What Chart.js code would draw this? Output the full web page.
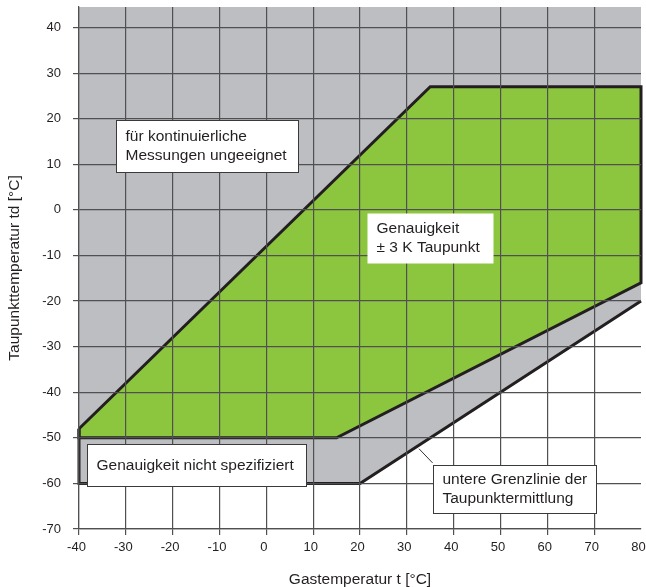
<!DOCTYPE html>
<html>
<head>
<meta charset="utf-8">
<script src="https://cdn.jsdelivr.net/npm/chart.js@4.4.1/dist/chart.umd.min.js"></script>
<style>
  html, body { margin: 0; padding: 0; background: #fff; }
  #wrap { width: 646px; height: 587px; }
</style>
</head>
<body>
<div id="wrap"><canvas id="chart" width="646" height="587"></canvas></div>
<script>
// region outlines, [gas temperature, dew point]
const grayZone = [[-40, 44.5], [80, 44.5], [80, -20], [20, -60], [-40, -60]];
const greenZone = [[-40, -48], [35, 27], [80, 27], [80, -16], [15, -50], [-40, -50], [-40, -48]];
const lowerLimit = [[-40, -48], [-40, -60], [20, -60], [80, -20]];

const xTicks = [-40, -30, -20, -10, 0, 10, 20, 30, 40, 50, 60, 70, 80];
const yTicks = [-70, -60, -50, -40, -30, -20, -10, 0, 10, 20, 30, 40];

const xTitle = 'Gastemperatur t [°C]';
const yTitle = 'Taupunkttemperatur td [°C]';

const noteTexts = [
    ['für kontinuierliche', 'Messungen ungeeignet'],
    ['Genauigkeit', '± 3 K Taupunkt'],
    ['Genauigkeit nicht spezifiziert'],
    ['untere Grenzlinie der', 'Taupunktermittlung']
];

const FONT = '"Liberation Sans", Arial, Helvetica, sans-serif';
const GRID = '#505053';
const INK = '#231f20';

const toPoints = arr => arr.map(p => ({ x: p[0], y: p[1] }));

// white text boxes drawn on top of everything
const notesPlugin = {
    id: 'notes',
    afterDraw(chart) {
        const { ctx, scales: { x, y } } = chart;
        const boxes = [
            { x0: -32.0, y0: 19.8, x1: 6.8, y1: 8.3, border: true },
            { x0: 21.4, y0: -0.6, x1: 48.4, y1: -11.6, border: false },
            { x0: -38.2, y0: -51.4, x1: 8.4, y1: -60.5, border: true },
            { x0: 35.6, y0: -55.9, x1: 70.4, y1: -66.6, border: true }
        ];
        ctx.save();

        // leader from the last box to the lower limit line
        ctx.strokeStyle = '#333';
        ctx.lineWidth = 1;
        ctx.beginPath();
        ctx.moveTo(x.getPixelForValue(35.6) - 0.5, y.getPixelForValue(-55.5));
        ctx.lineTo(x.getPixelForValue(32.6), y.getPixelForValue(-52.4));
        ctx.stroke();

        boxes.forEach((b, i) => {
            const left = Math.round(x.getPixelForValue(b.x0)) + 0.5;
            const right = Math.round(x.getPixelForValue(b.x1)) + 0.5;
            const top = Math.round(y.getPixelForValue(b.y0)) + 0.5;
            const bottom = Math.round(y.getPixelForValue(b.y1)) + 0.5;
            ctx.fillStyle = '#fff';
            ctx.fillRect(left, top, right - left, bottom - top);
            if (b.border) {
                ctx.strokeStyle = '#3a3a3a';
                ctx.lineWidth = 1;
                ctx.strokeRect(left, top, right - left, bottom - top);
            }
            const lines = noteTexts[i];
            const lh = 19;
            const mid = (top + bottom) / 2;
            ctx.fillStyle = '#231f20';
            ctx.font = '15.5px ' + FONT;
            ctx.textAlign = 'left';
            ctx.textBaseline = 'middle';
            lines.forEach((t, k) => {
                ctx.fillText(t, left + 9, mid + (k - (lines.length - 1) / 2) * lh);
            });
        });
        ctx.restore();
    }
};

new Chart(document.getElementById('chart'), {
    type: 'scatter',
    data: {
        datasets: [{
            data: toPoints(lowerLimit),
            showLine: true,
            borderColor: INK,
            borderWidth: 3,
            pointRadius: 0,
            fill: false,
            clip: 4,
            order: 0
        }, {
            data: toPoints(greenZone),
            showLine: true,
            borderColor: INK,
            borderWidth: 3,
            backgroundColor: '#8cc63f',
            pointRadius: 0,
            fill: 'shape',
            clip: 4,
            order: 1
        }, {
            data: toPoints(grayZone),
            showLine: true,
            borderWidth: 0,
            borderColor: 'rgba(0,0,0,0)',
            backgroundColor: '#bdbec2',
            pointRadius: 0,
            fill: 'shape',
            order: 2
        }]
    },
    options: {
        responsive: false,
        animation: false,
        layout: { padding: { top: 7, right: 5, left: 0, bottom: 0 } },
        plugins: {
            legend: { display: false },
            tooltip: { enabled: false }
        },
        scales: {
            x: {
                type: 'linear',
                min: -40,
                max: 80,
                afterBuildTicks: s => { s.ticks = xTicks.map(v => ({ value: v })); },
                afterFit: s => { s.height = 58; s.paddingLeft = 0; s.paddingRight = 0; },
                ticks: {
                    color: '#231f20',
                    font: { family: FONT, size: 13 },
                    padding: 5,
                    labelOffset: -2.5,
                    maxRotation: 0,
                    autoSkip: false
                },
                grid: {
                    color: c => (c.tick && c.tick.value === 80 ? 'rgba(0,0,0,0)' : GRID),
                    lineWidth: 1.2,
                    tickLength: 6,
                    z: 1
                },
                border: { color: GRID, width: 1.2, z: 1 },
                title: {
                    display: true,
                    text: xTitle,
                    color: '#231f20',
                    font: { family: FONT, size: 15.5, lineHeight: 1 },
                    padding: { top: 0, bottom: 0 }
                }
            },
            y: {
                type: 'linear',
                min: -70,
                max: 44.5,
                afterBuildTicks: s => { s.ticks = yTicks.map(v => ({ value: v })); },
                afterFit: s => { s.width = 79; s.paddingTop = 0; s.paddingBottom = 0; },
                ticks: {
                    color: '#231f20',
                    font: { family: FONT, size: 13 },
                    padding: 12,
                    autoSkip: false
                },
                grid: {
                    color: GRID,
                    lineWidth: 1.2,
                    tickLength: 6,
                    z: 1
                },
                border: { color: GRID, width: 1.2, z: 1 },
                title: {
                    display: true,
                    text: yTitle,
                    color: '#231f20',
                    font: { family: FONT, size: 15.5, lineHeight: 1.2 },
                    padding: { top: 5, bottom: 0 }
                }
            }
        }
    },
    plugins: [notesPlugin]
});
</script>
</body>
</html>
